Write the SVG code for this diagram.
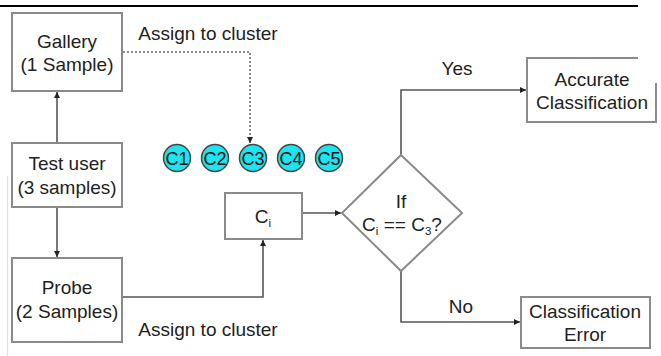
<svg xmlns="http://www.w3.org/2000/svg" width="661" height="356" viewBox="0 0 661 356">
<style>
.box{fill:#fff;stroke:#8a8a8a;stroke-width:2}
.ln{fill:none;stroke:#555;stroke-width:1.6}
.dot{fill:none;stroke:#666;stroke-width:1.6;stroke-dasharray:2 2}
text{font-family:"Liberation Sans",Arial,sans-serif;font-size:19px;fill:#222;text-anchor:middle}
.sub{font-size:11.5px}
.cl circle{fill:#1fe3ee;stroke:#444;stroke-width:1.5}
.cl text{font-size:18px;fill:#111}
</style>
<defs>
<marker id="ah" viewBox="0 0 8 8" refX="8" refY="4" markerWidth="6" markerHeight="6" markerUnits="userSpaceOnUse" orient="auto">
<path d="M0,0 L8,4 L0,8 Z" fill="#222"/>
</marker>
</defs>
<rect width="661" height="356" fill="#fff"/>
<line x1="0" y1="6" x2="638" y2="6" stroke="#000" stroke-width="2"/>
<line x1="7.5" y1="176" x2="7.5" y2="356" stroke="#e2e2e2" stroke-width="1.2"/>

<g id="connectors">
<path class="ln" d="M57,143 V92" marker-end="url(#ah)"/>
<path class="ln" d="M57,207 V257" marker-end="url(#ah)"/>
<path class="dot" d="M123,52 H250 V143" marker-end="url(#ah)"/>
<path class="ln" d="M123,297 H263 V240" marker-end="url(#ah)"/>
<path class="ln" d="M303,213 H341" marker-end="url(#ah)"/>
<path class="ln" d="M401,155 V90 H526" marker-end="url(#ah)"/>
<path class="ln" d="M401,271 V322 H520" marker-end="url(#ah)"/>
<text x="208" y="40">Assign to cluster</text>
<text x="208" y="336">Assign to cluster</text>
<text x="457" y="75">Yes</text>
<text x="461" y="313">No</text>
</g>

<g id="gallery">
<rect class="box" x="12" y="13" width="110" height="78"/>
<text x="67" y="48">Gallery</text>
<text x="67" y="71">(1 Sample)</text>
</g>
<g id="testuser">
<rect class="box" x="12" y="143" width="110" height="64"/>
<text x="67" y="170">Test user</text>
<text x="67" y="194">(3 samples)</text>
</g>
<g id="probe">
<rect class="box" x="12" y="258" width="110" height="84"/>
<text x="67" y="294">Probe</text>
<text x="67" y="318">(2 Samples)</text>
</g>
<g id="clusters" class="cl">
<g id="c1"><circle cx="177" cy="158" r="13.5"/><text x="177" y="164.5">C1</text></g>
<g id="c2"><circle cx="215" cy="158" r="13.5"/><text x="215" y="164.5">C2</text></g>
<g id="c3"><circle cx="253" cy="158" r="13.5"/><text x="253" y="164.5">C3</text></g>
<g id="c4"><circle cx="291" cy="158" r="13.5"/><text x="291" y="164.5">C4</text></g>
<g id="c5"><circle cx="329" cy="158" r="13.5"/><text x="329" y="164.5">C5</text></g>
</g>
<g id="ci">
<rect class="box" x="225" y="193" width="77" height="46"/>
<text x="263" y="223">C<tspan class="sub" dy="4">i</tspan></text>
</g>
<g id="decision">
<polygon class="box" points="401,155 462,213 401,271 342,213"/>
<text x="401" y="208">If</text>
<text x="402" y="231">C<tspan class="sub" dy="4">i</tspan><tspan dy="-4"> == C</tspan><tspan class="sub" dy="4">3</tspan><tspan dy="-4">?</tspan></text>
</g>
<g id="accurate">
<path class="box" d="M638,58 H527 V122 H656 V83"/>
<text x="592" y="86">Accurate</text>
<text x="592" y="109">Classification</text>
</g>
<g id="error">
<rect class="box" x="521" y="297" width="129" height="51"/>
<text x="585" y="318">Classification</text>
<text x="585" y="341">Error</text>
</g>
</svg>
